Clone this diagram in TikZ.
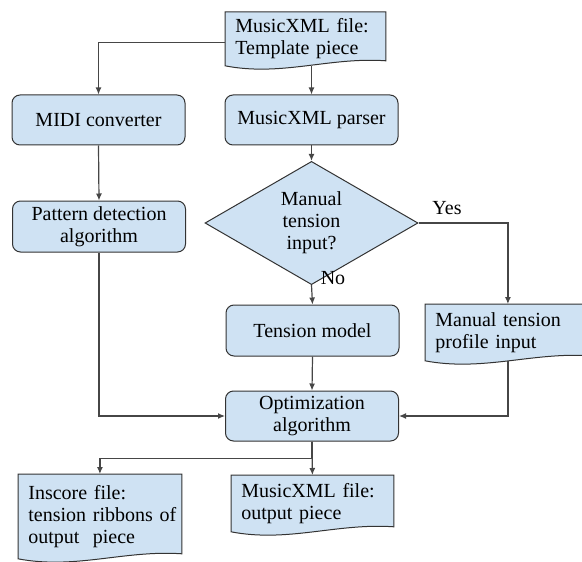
\documentclass[tikz,border=0pt]{standalone}
\usepackage{fontspec}
\setmainfont{Liberation Serif}
\usetikzlibrary{shapes.geometric,arrows.meta,calc,backgrounds}
\definecolor{boxblue}{RGB}{207,226,243}
\definecolor{linegray}{RGB}{70,70,70}

% document symbol: flat top, wavy bottom (drawn behind the node text)
\newcommand{\docshape}[1]{%
  \begin{pgfonlayer}{background}
  \filldraw[docline] (#1.north west) -- (#1.north east) -- ([yshift=2.5pt]#1.south east)
    .. controls ($(#1.south west)!0.65!(#1.south east)+(0,4.5pt)$)
    and ($(#1.south west)!0.35!(#1.south east)+(0,-5.5pt)$) .. (#1.south west) -- cycle;
  \end{pgfonlayer}}

\begin{document}
\begin{tikzpicture}[%
      x=0.5pt, y=-0.5pt,
      font=\fontsize{10}{11}\selectfont,
      proc/.style={draw=black!80, fill=boxblue, line width=0.5pt, rounded corners=4pt,
        minimum width=86.5pt, minimum height=25pt, align=center, inner sep=2pt},
      ask/.style={shape=diamond, draw=black!80, fill=boxblue, line width=0.5pt,
        minimum width=106.5pt, minimum height=47pt, inner sep=0pt, align=center},
      doc/.style={anchor=north west, align=left, inner xsep=5pt, inner ysep=1pt, text width=#1},
      docline/.style={draw=black!80, fill=boxblue, line width=0.5pt},
      arr/.style={draw=linegray, line width=0.6pt, -{Latex[length=3.5pt,width=3pt]}},
      ]
      \useasboundingbox (0,0) rectangle (582,561);
      \clip (0,0) rectangle (582,561);

      % inputs and processing
      \node [doc=70pt, minimum height=26.5pt] (tmpl) at (225,12) {MusicXML file:\\Template piece};
      \node [proc] (midi) at (98.5,120) {MIDI converter};
      \node [proc] (parser) at (311.5,120) {MusicXML parser};
      \node [proc, minimum height=25.5pt] (pattern) at (99,226.5) {Pattern detection\\algorithm};
      \node [ask] (ask) at (311.5,223) {Manual\\tension\\input?};
      \node [proc, minimum height=25.5pt] (tension) at (312.5,330.5) {Tension model};
      \node [doc=72.5pt, minimum height=28pt] (manual) at (425,304) {Manual tension\\profile input};
      \node [proc] (opt) at (312,416) {Optimization\\algorithm};

      % outputs
      \node [doc=71.5pt, minimum height=42pt] (inscore) at (18,474)
        {Inscore file:\\\mbox{tension ribbons of}\\output\ \ piece};
      \node [doc=71pt, minimum height=28pt] (outxml) at (231,475) {MusicXML file:\\output piece};

      \docshape{tmpl}
      \docshape{manual}
      \docshape{inscore}
      \docshape{outxml}

      \node (yes) at (447,208) {Yes};
      \node (no) at (333,278) {No};

      % connectors
      \draw [arr] ([yshift=-1.75pt]tmpl.west) -| (midi.north);
      \draw [arr] (parser.north |- tmpl.south) -- (parser.north);
      \draw [arr] (midi.south) -- (pattern.north);
      \draw [arr] (parser.south) -- (ask.north);
      \draw [arr] (ask.east) -| (manual.north);
      \draw [arr] (ask.south) -- (tension.north);
      \draw [arr] (tension.south) -- (opt.north);
      \draw [arr] (pattern.south) |- (opt.west);
      \draw [arr] (manual.south) |- (opt.east);
      \coordinate (split) at ($(opt.south)+(0,-8.5pt)$);
      \draw [arr] (opt.south) -- (split) -| (inscore.north);
      \draw [arr] (opt.south) -- (outxml.north);
\end{tikzpicture}
\end{document}
